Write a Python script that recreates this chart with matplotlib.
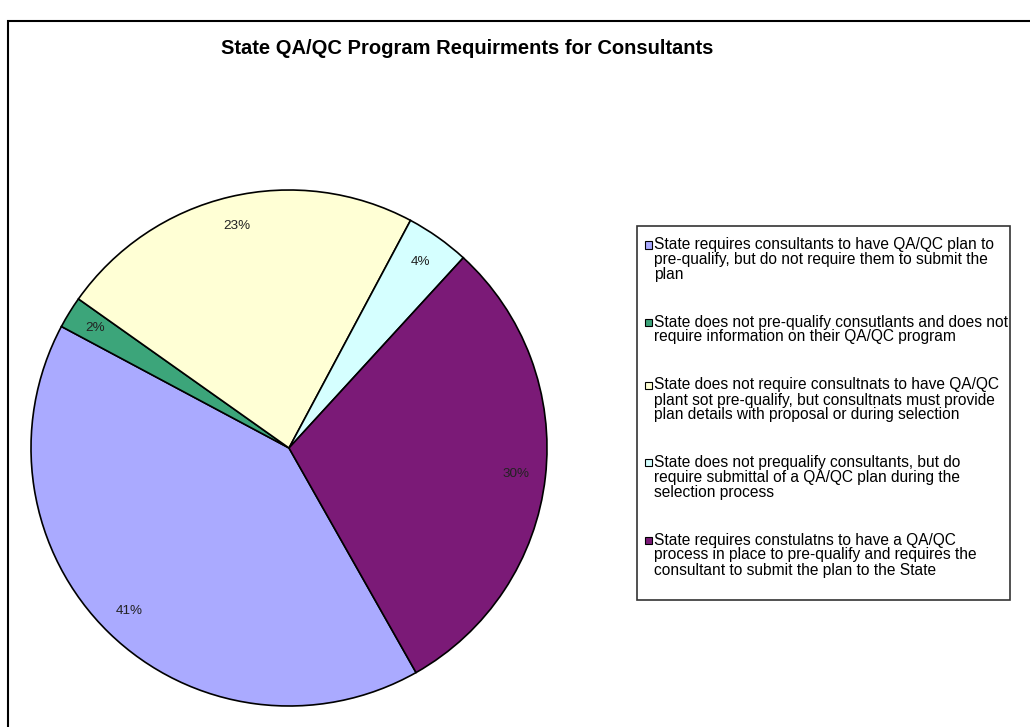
import matplotlib
matplotlib.use("Agg")
import matplotlib.pyplot as plt
from matplotlib.patches import Rectangle

# --- data ---
title = "State QA/QC Program Requirments for Consultants"
labels = [
    "State requires consultants to have QA/QC plan to\npre-qualify, but do not require them to submit the\nplan",
    "State does not pre-qualify consutlants and does not\nrequire information on their QA/QC program",
    "State does not require consultnats to have QA/QC\nplant sot pre-qualify, but consultnats must provide\nplan details with proposal or during selection",
    "State does not prequalify consultants, but do\nrequire submittal of a QA/QC plan during the\nselection process",
    "State requires constulatns to have a QA/QC\nprocess in place to pre-qualify and requires the\nconsultant to submit the plan to the State",
]
shares = [41, 2, 23, 4, 30]
colors = ["#AAAAFF", "#3CA57A", "#FFFFD5", "#D5FFFF", "#7B1A77"]

W, H = 1030, 727
plt.rcParams["font.family"] = ["Liberation Sans", "DejaVu Sans"]
fig = plt.figure(figsize=(W / 100, H / 100), dpi=100)


def fx(x):
    return x / W


def fy(y):
    return 1 - y / H


# outer chart frame (right/bottom run off the picture)
fig.add_artist(Rectangle((fx(8), fy(740)), fx(1040 - 8), (740 - 21) / H,
                         transform=fig.transFigure, fill=False,
                         edgecolor="black", lw=1.5))

fig.text(fx(467), fy(48), title, ha="center", va="center",
         fontsize=14.5, fontweight="bold")

# --- pie ---
cx, cy, r = 289, 448, 258
ax = fig.add_axes([fx(cx - r), (H - cy - r) / H, 2 * r / W, 2 * r / H])
wedges, texts, autotexts = ax.pie(
    shares, colors=colors, startangle=90 - 150.5, counterclock=False,
    autopct="%.0f%%", pctdistance=0.885,
    wedgeprops=dict(edgecolor="black", linewidth=1.2),
    textprops=dict(fontsize=9.7, color="#222222"))
for w in wedges:
    w.set_clip_on(False)
ax.set_xlim(-1, 1)
ax.set_ylim(-1, 1)
ax.set_aspect("equal")

# --- legend box, drawn by hand so markers sit on the first line ---
fig.add_artist(Rectangle((fx(637), fy(600)), fx(1010 - 637), (600 - 226) / H,
                         transform=fig.transFigure, fill=False,
                         edgecolor="#333333", lw=1.2))
line_px, gap_px = 14.5, 34
y0 = 245
for lab, col in zip(labels, colors):
    fig.add_artist(Rectangle((fx(645), fy(y0 + 3.5)), fx(7), 7 / H,
                             transform=fig.transFigure, facecolor=col,
                             edgecolor="black", lw=0.8))
    fig.text(fx(654), fy(y0 - 8), lab, ha="left", va="top",
             fontsize=11.2, linespacing=1.0)
    y0 += (lab.count("\n") + 1) * line_px + gap_px

fig.savefig("out.png", dpi=100)
